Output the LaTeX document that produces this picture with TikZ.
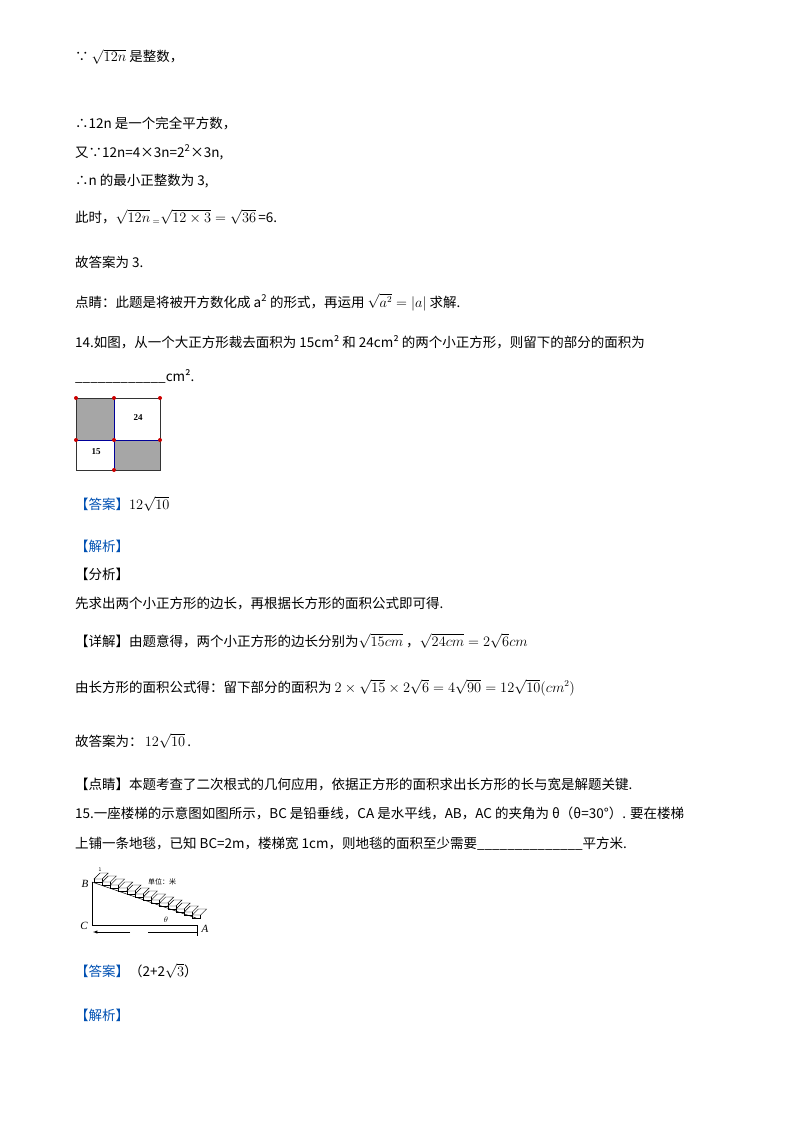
\documentclass[tikz,border=0pt]{standalone}
\usepackage{fontspec}
\setmainfont{Noto Sans CJK SC}
\newfontfamily\serif{Liberation Serif}
\usepackage{amsmath}
\begin{document}
\begin{tikzpicture}[x=1pt,y=-1pt,
  t/.style={anchor=base west,inner sep=0pt,font=\fontsize{13.5}{15}\selectfont},
  blue/.style={t,text=blue!55!cyan!70!black},
  lab/.style={font=\serif\itshape\fontsize{11}{12}\selectfont},
  dot/.style={circle,fill=red!80!black,inner sep=0pt,minimum size=4pt}]
\useasboundingbox (0,0) rectangle (800,1132);
\node[t] (l1) at (75,62) {∵ $\sqrt{12n}$ 是整数，};
\node[t] (l2) at (75,128) {∴12n 是一个完全平方数，};
\node[t] (l3) at (75,157) {又∵12n=4×3n=2\textsuperscript{2}×3n,};
\node[t] (l4) at (75,185) {∴n 的最小正整数为 3,};
\node[t] (l5) at (75,222) {此时，$\sqrt{12n}\,{}_{=}\sqrt{12\times3}=\sqrt{36}$\,=6.};
\node[t] (l6) at (75,267) {故答案为 3.};
\node[t] (l7) at (75,307) {点睛：此题是将被开方数化成 a\textsuperscript{2} 的形式，再运用 $\sqrt{a^2}=|a|$ 求解.};
\node[t] (l8) at (75,347) {14.如图，从一个大正方形裁去面积为 15cm² 和 24cm² 的两个小正方形，则留下的部分的面积为};
\node[t] (l9) at (75,381) {\_\_\_\_\_\_\_\_\_\_\_\_cm².};
% square figure
\fill[gray!70] (76,398) rectangle (114,440);
\fill[gray!70] (114,440) rectangle (160,470);
\draw[black!80,line width=0.8pt] (76,398) rectangle (160,470);
\draw[blue!60!black,line width=0.8pt] (114,398) -- (114,470) (76,440) -- (160,440);
\node[font=\serif\bfseries\fontsize{9}{10}\selectfont] (n24) at (138,418) {24};
\node[font=\serif\bfseries\fontsize{9}{10}\selectfont] (n15) at (96,452) {15};
\foreach \p in {(76,398),(114,398),(160,398),(76,440),(114,440),(160,440),(114,470)} \node[dot] at \p {};
\node[blue] (a1) at (75,509) {【答案】\textcolor{black}{$12\sqrt{10}$}};
\node[blue] (a2) at (75,551) {【解析】};
\node[t] (a3) at (75,579) {【分析】};
\node[t] (a4) at (75,608) {先求出两个小正方形的边长，再根据长方形的面积公式即可得.};
\node[t] (a5) at (75,646) {【详解】由题意得，两个小正方形的边长分别为$\sqrt{15cm}$ ，$\sqrt{24cm}=2\sqrt{6}cm$};
\node[t] (a6) at (75,692) {由长方形的面积公式得：留下部分的面积为 $2\times\sqrt{15}\times2\sqrt{6}=4\sqrt{90}=12\sqrt{10}(cm^2)$};
\node[t] (a7) at (75,746) {故答案为：\,$12\sqrt{10}$\,.};
\node[t] (a8) at (75,789) {【点睛】本题考查了二次根式的几何应用，依据正方形的面积求出长方形的长与宽是解题关键.};
\node[t] (a9) at (75,818) {15.一座楼梯的示意图如图所示，BC 是铅垂线，CA 是水平线，AB，AC 的夹角为 θ（θ=30°）. 要在楼梯};
\node[t] (a10) at (75,848) {上铺一条地毯，已知 BC=2m，楼梯宽 1cm，则地毯的面积至少需要\_\_\_\_\_\_\_\_\_\_\_\_\_\_平方米.};
% stair figure
\coordinate (B) at (92,882);
\coordinate (C) at (92,925);
\coordinate (A) at (198,925);
\draw[line width=0.6pt] (B) -- (C) -- (A);
\draw[line width=0.5pt] (B) -- (196,918);
\foreach \i in {0,...,12}{
  \pgfmathsetmacro{\xa}{94+\i*8.2}
  \pgfmathsetmacro{\ya}{879+\i*3.0}
  \draw[line width=0.45pt,fill=white] (\xa,\ya) -- ++(6,-6) -- ++(8.2,0) -- ++(-6,6) -- cycle;
  \draw[line width=0.45pt] (\xa,\ya) -- ++(0,3.0) -- ++(8.2,0) -- ++(0,-3.0);
}
\node[lab] (lb) at (85,884) {B};
\node[lab] (lc) at (84,926) {C};
\node[lab] (la) at (205,929) {A};
\node[font=\fontsize{5}{6}\selectfont] (one) at (100,870) {1};
\node[font=\fontsize{7}{8}\selectfont] (unit) at (162,882) {单位：米};
\node[lab,font=\serif\itshape\fontsize{8}{9}\selectfont] (th) at (166,920) {$\theta$};
\draw[-latex,line width=0.5pt] (130,932) -- (93,932);
\draw[line width=0.5pt] (148,932) -- (197,932);
\draw[line width=0.5pt] (197,926) -- (197,936);
\node[blue] (b1) at (75,976) {【答案】\textcolor{black}{（2+2$\sqrt{3}$）}};
\node[blue] (b2) at (75,1020) {【解析】};
\end{tikzpicture}
\end{document}
